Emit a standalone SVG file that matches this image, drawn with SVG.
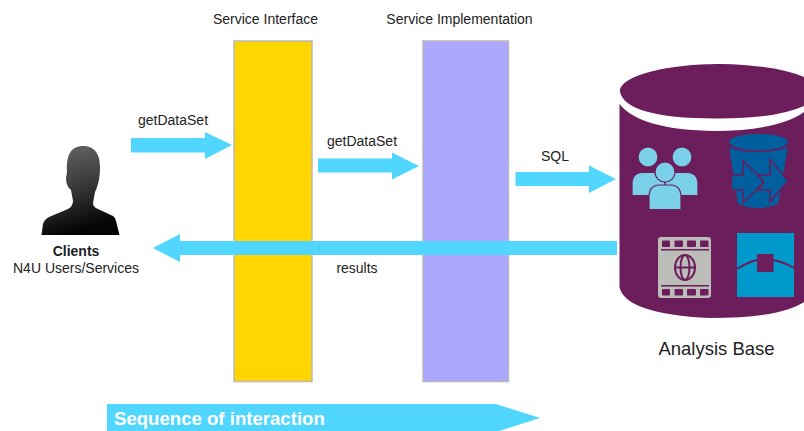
<svg xmlns="http://www.w3.org/2000/svg" width="804" height="431" viewBox="0 0 804 431">
<defs>
<style>
text{font-family:"Liberation Sans",Arial,sans-serif;fill:#222}
.lbl{font-size:14px}
.col{stroke:#b9b9b9;stroke-width:1.5}
.arr{fill:#50d6ff}
.db{fill:#6b1d5c}
.ppl{fill:#7ad0e8;stroke:#6b1d5c;stroke-width:1.2}
.blue{fill:#005f9e}
.sq{fill:#0099cc}
.gr{fill:#bcbcb8}
</style>
<linearGradient id="sil" x1="0" y1="0" x2="0.25" y2="1">
<stop offset="0" stop-color="#6a6a6a"/><stop offset="0.55" stop-color="#383838"/><stop offset="1" stop-color="#050505"/>
</linearGradient>
</defs>
<g id="service-interface">
<rect class="col" x="234" y="41" width="78" height="340.500" fill="#ffd600"/>
<text class="lbl" x="265.500" y="24" text-anchor="middle">Service Interface</text>
</g>
<g id="service-implementation">
<rect class="col" x="423" y="41" width="85.500" height="340.500" fill="#aca8ff"/>
<text class="lbl" x="459.500" y="24" text-anchor="middle">Service Implementation</text>
</g>
<g id="clients">
<path fill="url(#sil)" d="M41.500 235L43 224Q44 220 49 217L68 209Q73 206 73 201L71 190Q66 186 66 178L67 172C66 155 71 146 83 146C96 146 100 156 100 167C100 178 98 186 95 192L93 203Q93 207 98 209L113 216Q116 218 116 221L119.500 235Z"/>
<text x="76" y="256" text-anchor="middle" font-size="14" font-weight="bold">Clients</text>
<text class="lbl" x="76" y="273" text-anchor="middle">N4U Users/Services</text>
</g>
<g id="analysis-base">
<path class="db" d="M619.500 104L619.500 287Q625 314 710 318Q780 318 804 302L804 112Q780 130 715 131Q640 130 619.500 104Z"/>
<path class="db" d="M620 91.500C620 75 670 64 720 64Q775 65 804 77L804 106Q775 119 715 118.500Q625 118 620 91.500Z"/>
<g id="icon-people">
<circle class="ppl" cx="648" cy="157" r="10"/><circle class="ppl" cx="682" cy="157" r="10"/>
<path class="ppl" d="M632 195.500L632 182Q633 173 642 172.500L655 172.500Q662 173 665 178L665 195.500Z"/>
<path class="ppl" d="M665 195.500L665 178Q668 173 675 172.500L688 172.500Q697 173 698 182L698 195.500Z"/>
<path class="ppl" d="M649 209.500L649 195Q650 186 658 185L672 185Q680 186 681 195L681 209.500Z"/>
<circle class="ppl" cx="665" cy="172" r="10"/>
</g>
<g id="icon-bucket">
<ellipse class="blue" cx="758.500" cy="142" rx="29.500" ry="8"/>
<path class="blue" d="M729 146Q758 155 788 146L778 204Q758 212 738 204Z"/>
<path fill="none" stroke="#6b1d5c" stroke-width="1.500" d="M729 147Q758 156 788 147"/>
<path class="blue" stroke="#6b1d5c" stroke-width="1.500" d="M731.500 175L743 175L743 160L764 182L743 203L743 190L731.500 190Z"/>
<path class="blue" stroke="#6b1d5c" stroke-width="1.500" d="M758 175L770 175L770 159L788 181L770 202L770 190L758 190L764 182Z"/>
</g>
<g id="icon-film">
<rect class="gr" x="658" y="237" width="53" height="61" rx="3"/>
<g class="db">
<rect x="662" y="240.500" width="8" height="6.500" rx="1"/><rect x="674.500" y="240.500" width="8.500" height="6.500" rx="1"/><rect x="687" y="240.500" width="9" height="6.500" rx="1"/><rect x="700" y="240.500" width="8.500" height="6.500" rx="1"/>
<rect x="662" y="289" width="8" height="6.500" rx="1"/><rect x="674.500" y="289" width="8.500" height="6.500" rx="1"/><rect x="687" y="289" width="9" height="6.500" rx="1"/><rect x="700" y="289" width="8.500" height="6.500" rx="1"/>
<rect x="661" y="249" width="48" height="1.500"/><rect x="661" y="285" width="48" height="1.500"/>
</g>
<g fill="none" stroke="#6b1d5c" stroke-width="2">
<ellipse cx="685" cy="267.500" rx="10" ry="12.500"/><ellipse cx="685" cy="267.500" rx="4.500" ry="12.500"/><path d="M675 267.500H695"/>
</g>
</g>
<g id="icon-square">
<rect class="sq" x="737" y="233" width="57" height="64"/>
<path fill="none" stroke="#6b1d5c" stroke-width="2" d="M737 269Q748 262 757 260M773 260Q784 262 794 268"/>
<rect class="db" x="757" y="254" width="16.500" height="18"/>
</g>
<text x="716.500" y="355" text-anchor="middle" font-size="18.500">Analysis Base</text>
</g>
<g id="connectors">
<path class="arr" d="M131 138H205V132L232 145L205 159V152.500H131Z"/>
<path class="arr" d="M318 158.500H392V152.500L419 166L392 179.500V172.500H318Z"/>
<path class="arr" d="M515.500 172H589V165.500L616 179L589 193V186H515.500Z"/>
<path class="arr" d="M617 241H180V234L153 248L180 262V255H617Z"/>
<text class="lbl" x="173" y="125" text-anchor="middle">getDataSet</text>
<text class="lbl" x="362" y="146" text-anchor="middle">getDataSet</text>
<text class="lbl" x="555" y="161" text-anchor="middle">SQL</text>
<text class="lbl" x="357" y="273" text-anchor="middle">results</text>
</g>
<g id="sequence">
<path class="arr" d="M107 404H496L540 418L496 432H107Z"/>
<text x="114" y="425" font-size="18.600" font-weight="bold" style="fill:#fff">Sequence of interaction</text>
</g>
</svg>
